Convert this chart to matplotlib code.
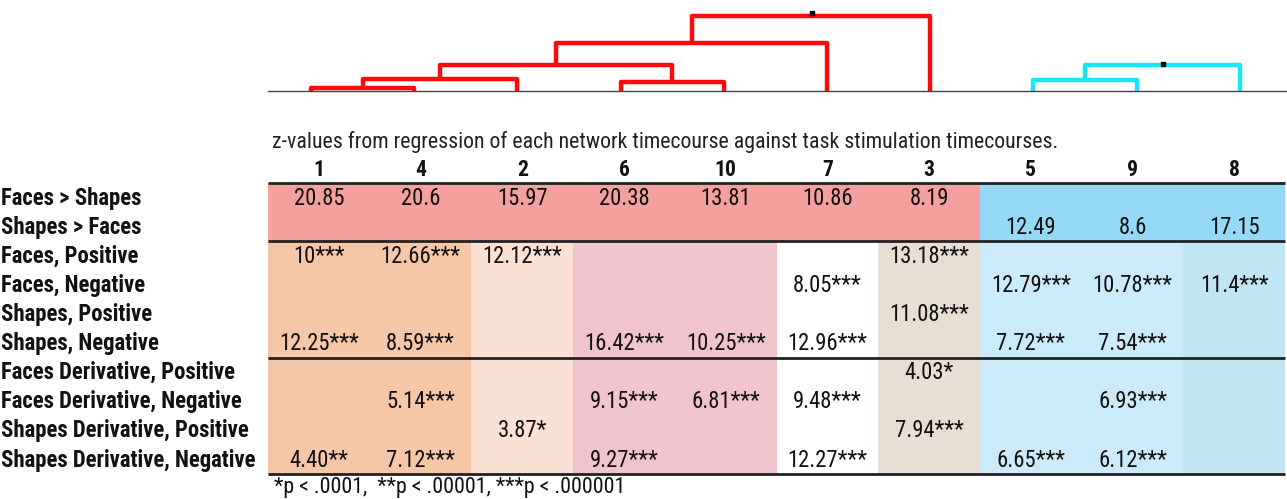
import matplotlib
matplotlib.use('Agg')
import matplotlib.pyplot as plt
from matplotlib import font_manager
from matplotlib.patches import Rectangle
from matplotlib.transforms import blended_transform_factory

# ---- data ----
network_order = ['1', '4', '2', '6', '10', '7', '3', '5', '9', '8']
row_labels = [
    'Faces > Shapes', 'Shapes > Faces',
    'Faces, Positive', 'Faces, Negative', 'Shapes, Positive', 'Shapes, Negative',
    'Faces Derivative, Positive', 'Faces Derivative, Negative',
    'Shapes Derivative, Positive', 'Shapes Derivative, Negative',
]
faces_gt_shapes = ['20.85', '20.6', '15.97', '20.38', '13.81', '10.86', '8.19', '', '', '']
shapes_gt_faces = ['', '', '', '', '', '', '', '12.49', '8.6', '17.15']
faces_pos = ['10***', '12.66***', '12.12***', '', '', '', '13.18***', '', '', '']
faces_neg = ['', '', '', '', '', '8.05***', '', '12.79***', '10.78***', '11.4***']
shapes_pos = ['', '', '', '', '', '', '11.08***', '', '', '']
shapes_neg = ['12.25***', '8.59***', '', '16.42***', '10.25***', '12.96***', '', '7.72***', '7.54***', '']
faces_deriv_pos = ['', '', '', '', '', '', '4.03*', '', '', '']
faces_deriv_neg = ['', '5.14***', '', '9.15***', '6.81***', '9.48***', '', '', '6.93***', '']
shapes_deriv_pos = ['', '', '3.87*', '', '', '', '7.94***', '', '', '']
shapes_deriv_neg = ['4.40**', '7.12***', '', '9.27***', '', '12.27***', '', '6.65***', '6.12***', '']
cell_values = [faces_gt_shapes, shapes_gt_faces, faces_pos, faces_neg, shapes_pos,
               shapes_neg, faces_deriv_pos, faces_deriv_neg, shapes_deriv_pos, shapes_deriv_neg]

# column shading (contrast rows / regressor rows)
contrast_colors = ['#F4A09D'] * 7 + ['#95D9F6'] * 3
body_colors = ['#F6C6A9', '#F6C6A9', '#FBE0D4', '#EFC4CC', '#EFC4CC',
               '#FFFFFF', '#E9DED3', '#CCEBFA', '#CCEBFA', '#C2E5F4']

# dendrogram: leaves 0..9 in network_order, merges create nodes 10, 11, ...
merge_a = [0, 10, 3, 11, 13, 14, 7, 16]
merge_b = [1, 2, 4, 12, 5, 6, 8, 9]
merge_height = [3, 12, 9, 26, 48, 75, 11, 26]
merge_color = ['#FF0A0A'] * 6 + ['#18E6F8'] * 2
dot_x = [4.855, 8.256]
dot_height = [78, 27]

title = 'z-values from regression of each network timecourse against task stimulation timecourses.'
footnote = '*p < .0001,  **p < .00001, ***p < .000001'

# narrow face for everything, the original uses a condensed font
installed = {f.name for f in font_manager.fontManager.ttflist}
FONT = 'Liberation Sans'
for cand in ['Roboto Condensed', 'Liberation Sans Narrow', 'DejaVu Sans Condensed']:
    if cand in installed:
        FONT = cand
        break

W, H = 1287, 499
fig = plt.figure(figsize=(W / 100, H / 100), dpi=100)
renderer = fig.canvas.get_renderer()


def fit_size(s, width_px, **kw):
    t = fig.text(0, 0, s, fontsize=10, family=FONT, **kw)
    w = t.get_window_extent(renderer).width
    t.remove()
    return 10 * width_px / w


label_size = fit_size('Shapes Derivative, Negative', 256, fontweight='bold')
value_size = fit_size('20.85', 50)
title_size = fit_size(title, 782)
head_size = fit_size('10', 22, fontweight='bold')

# ---- dendrogram ----
dax = fig.add_axes([268 / W, 1 - 91 / H, (1287 - 268) / W, 91 / H])
dax.set_xlim((268 - 311) / 103.2, (1287 - 311) / 103.2)
dax.set_ylim(0, 91)
dax.axis('off')

node_x = list(range(len(network_order)))
node_h = [0] * len(network_order)
for a, b, h, c in zip(merge_a, merge_b, merge_height, merge_color):
    dax.plot([node_x[a], node_x[a], node_x[b], node_x[b]],
             [node_h[a], h, h, node_h[b]], color=c, lw=3.2,
             solid_joinstyle='round', solid_capstyle='butt', clip_on=False)
    node_x.append((node_x[a] + node_x[b]) / 2)
    node_h.append(h)
dax.axhline(0, color='#444444', lw=1.0, clip_on=False)
dax.scatter(dot_x, dot_height, marker='s', s=6, color='black', zorder=5, clip_on=False)

# ---- table ----
ax = fig.add_axes([268 / W, 1 - 474 / H, (1285 - 268) / W, 291 / H])
ax.set_xlim(0, len(network_order))
ax.set_ylim(len(row_labels), 0)
ax.axis('off')

for r, row in enumerate(cell_values):
    colors = contrast_colors if r < 2 else body_colors
    for c, val in enumerate(row):
        ax.add_patch(Rectangle((c, r), 1, 1, facecolor=colors[c], edgecolor='none'))
        if val:
            ax.text(c + 0.5, r + 0.52, val, ha='center', va='center',
                    fontsize=value_size, family=FONT, color='#111111')

for y in [0, 2, 6, 10]:
    ax.plot([0, len(network_order)], [y, y], color='#222222', lw=2.0,
            solid_capstyle='butt', clip_on=False)

for c, name in enumerate(network_order):
    ax.text(c + 0.5, -0.45, name, ha='center', va='center', fontsize=head_size,
            fontweight='bold', family=FONT, color='#111111')

ax.text(0.04, -1.42, title, ha='left', va='center', fontsize=title_size,
        family=FONT, color='#222222')
ax.text(0.06, 10.45, footnote, ha='left', va='center', fontsize=title_size,
        family=FONT, color='#111111')

lab_tr = blended_transform_factory(fig.transFigure, ax.transData)
for r, lab in enumerate(row_labels):
    ax.text(1 / W, r + 0.52, lab, transform=lab_tr, ha='left', va='center',
            fontsize=label_size, fontweight='bold', family=FONT, color='#111111')

fig.savefig('out.png', dpi=100)
